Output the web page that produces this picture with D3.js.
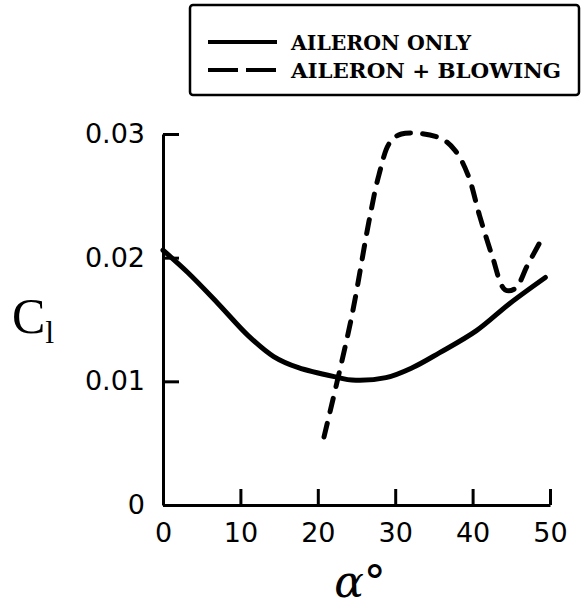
<meta charset="utf-8">
<html>
<head>
<style>
  body { margin: 0; background: #fff; }
  .tick text { font-family: "DejaVu Sans", sans-serif; font-size: 27px; fill: #000; }
</style>
</head>
<body>
<script src="https://d3js.org/d3.v7.min.js"></script>
<div id="chart"></div>
<script>
// data
var aileronAlpha = [0, 3.2, 7.1, 11.0, 14.3, 17.5, 22.7, 24.4, 28.8, 32.2, 35.7, 40.5, 44.8, 49.4];
var aileronCl    = [0.0206, 0.0188, 0.0163, 0.0137, 0.0120, 0.0111, 0.0103, 0.0101, 0.0103, 0.0111, 0.0123, 0.0141, 0.0163, 0.0184];

var blowingAlpha = [20.8, 24.3, 26.6, 27.9, 29.3, 30.8, 35.7, 37.7, 39.4, 40.9, 42.5, 44.2, 45.5, 47.1, 49.1];
var blowingCl    = [0.0055, 0.0150, 0.0229, 0.0267, 0.0293, 0.0300, 0.0297, 0.0287, 0.0267, 0.0234, 0.0202, 0.0174, 0.0175, 0.0194, 0.0217];

var xTicks = [0, 10, 20, 30, 40, 50];
var yTicks = [0, 0.01, 0.02, 0.03];
var legendLabels = ["AILERON ONLY", "AILERON + BLOWING"];

var W = 582, H = 611;
var svg = d3.select("#chart").append("svg")
  .attr("width", W).attr("height", H);

var x = d3.scaleLinear().domain([0, 50]).range([163, 550]);
var y = d3.scaleLinear().domain([0, 0.03]).range([505, 134]);

// axes
svg.append("g")
  .attr("transform", "translate(0," + y(0) + ")")
  .call(d3.axisBottom(x).tickValues(xTicks).tickSize(-16).tickPadding(18).tickSizeOuter(0));
svg.append("g")
  .attr("transform", "translate(" + x(0) + ",0)")
  .call(d3.axisLeft(y).tickValues(yTicks).tickSize(-16).tickPadding(18)
        .tickSizeOuter(0)
        .tickFormat(function(d) { return d === 0 ? "0" : d3.format(".2f")(d); }));

svg.selectAll(".domain").attr("stroke", "#000").attr("stroke-width", 3);
svg.selectAll(".tick line").attr("stroke", "#000").attr("stroke-width", 3);

// curves
var line = d3.line()
  .x(function(d) { return x(d[0]); })
  .y(function(d) { return y(d[1]); })
  .curve(d3.curveCatmullRom);

svg.append("path")
  .datum(d3.zip(aileronAlpha, aileronCl))
  .attr("fill", "none").attr("stroke", "#000")
  .attr("stroke-width", 5).attr("stroke-linecap", "round")
  .attr("d", line);

svg.append("path")
  .datum(d3.zip(blowingAlpha, blowingCl))
  .attr("fill", "none").attr("stroke", "#000")
  .attr("stroke-width", 5).attr("stroke-linecap", "round")
  .attr("stroke-dasharray", "14,12")
  .attr("d", line);

// axis titles
svg.append("text")
  .attr("x", 360).attr("y", 597)
  .attr("text-anchor", "middle")
  .style("font-family", "'DejaVu Serif', serif").style("font-style", "italic")
  .style("font-size", "44px")
  .text("α°");

var cl = svg.append("text")
  .attr("x", 12).attr("y", 333)
  .style("font-family", "'Liberation Serif', serif")
  .style("font-size", "50px");
cl.append("tspan").text("C");
cl.append("tspan").attr("dy", 10).style("font-size", "32px").text("l");

// legend
var leg = svg.append("g");
leg.append("rect")
  .attr("x", 190).attr("y", 5).attr("width", 389).attr("height", 90)
  .attr("rx", 3)
  .attr("fill", "none").attr("stroke", "#000").attr("stroke-width", 2.5);

legendLabels.forEach(function(lab, i) {
  var yy = 42 + i * 28;
  leg.append("line")
    .attr("x1", 208).attr("x2", 277).attr("y1", yy).attr("y2", yy)
    .attr("stroke", "#000").attr("stroke-width", 4)
    .attr("stroke-dasharray", i === 1 ? "30,8" : null);
  leg.append("text")
    .attr("x", 291).attr("y", yy + 8)
    .attr("textLength", i === 0 ? 180 : 270)
    .attr("lengthAdjust", "spacingAndGlyphs")
    .style("font-family", "'DejaVu Serif', serif").style("font-weight", "bold")
    .style("font-size", "21px")
    .text(lab);
});
</script>
</body>
</html>
